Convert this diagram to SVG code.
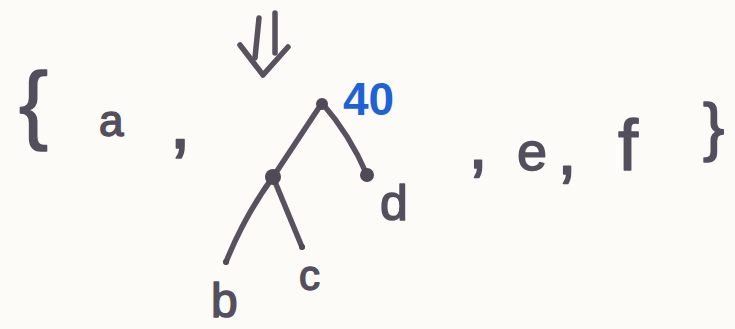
<svg xmlns="http://www.w3.org/2000/svg" width="735" height="329" viewBox="0 0 735 329">
<style>
.t{font-family:"Liberation Sans",Arial,sans-serif;fill:#544f5c;stroke:#544f5c;stroke-width:1.5;stroke-linejoin:round}
.e{stroke:#57525e;stroke-width:5.5;stroke-linecap:round;stroke-linejoin:round;fill:none}
.n{fill:#4f4a56}
.blue{font-family:"Liberation Sans",Arial,sans-serif;font-weight:bold;fill:#1d63d6}
</style>
<rect width="735" height="329" fill="#fcfbf8"/>
<g id="open-brace"><text class="t" x="19" y="133" font-size="87">{</text></g>
<g id="item-a"><text class="t" x="99" y="136" font-size="44">a</text></g>
<g id="comma-1"><text class="t" x="169" y="148" font-size="80">,</text></g>
<g id="down-arrow">
<path class="e" d="M259 18 L255 58"/>
<path class="e" d="M275 13 L275 53"/>
<path class="e" d="M240 45 L263 75 L288 47"/>
</g>
<g id="connectors">
<path class="e" d="M322 103 L273 177"/>
<path class="e" d="M322 103 Q350 135 367 175"/>
<path class="e" d="M273 177 Q245 215 226 262"/>
<path class="e" d="M273 177 L302 247"/>
</g>
<g id="node-root"><circle class="n" cx="322" cy="104" r="6"/><text class="blue" x="343" y="115" font-size="46">40</text></g>
<g id="node-inner"><circle class="n" cx="273" cy="177" r="8"/></g>
<g id="node-d"><circle class="n" cx="367" cy="175" r="7"/><text class="t" x="380" y="220" font-size="50">d</text></g>
<g id="node-b"><circle class="n" cx="226" cy="262" r="3"/><text class="t" x="211" y="317" font-size="48">b</text></g>
<g id="node-c"><circle class="n" cx="302" cy="247" r="3"/><text class="t" x="299" y="290" font-size="42">c</text></g>
<g id="comma-2"><text class="t" x="468" y="168" font-size="72">,</text></g>
<g id="item-e"><text class="t" x="517" y="170" font-size="54">e</text></g>
<g id="comma-3"><text class="t" x="557" y="174" font-size="72">,</text></g>
<g id="item-f"><text class="t" x="618" y="170" font-size="72">f</text></g>
<g id="close-brace"><text class="t" x="703" y="149" font-size="64">}</text></g>
</svg>
